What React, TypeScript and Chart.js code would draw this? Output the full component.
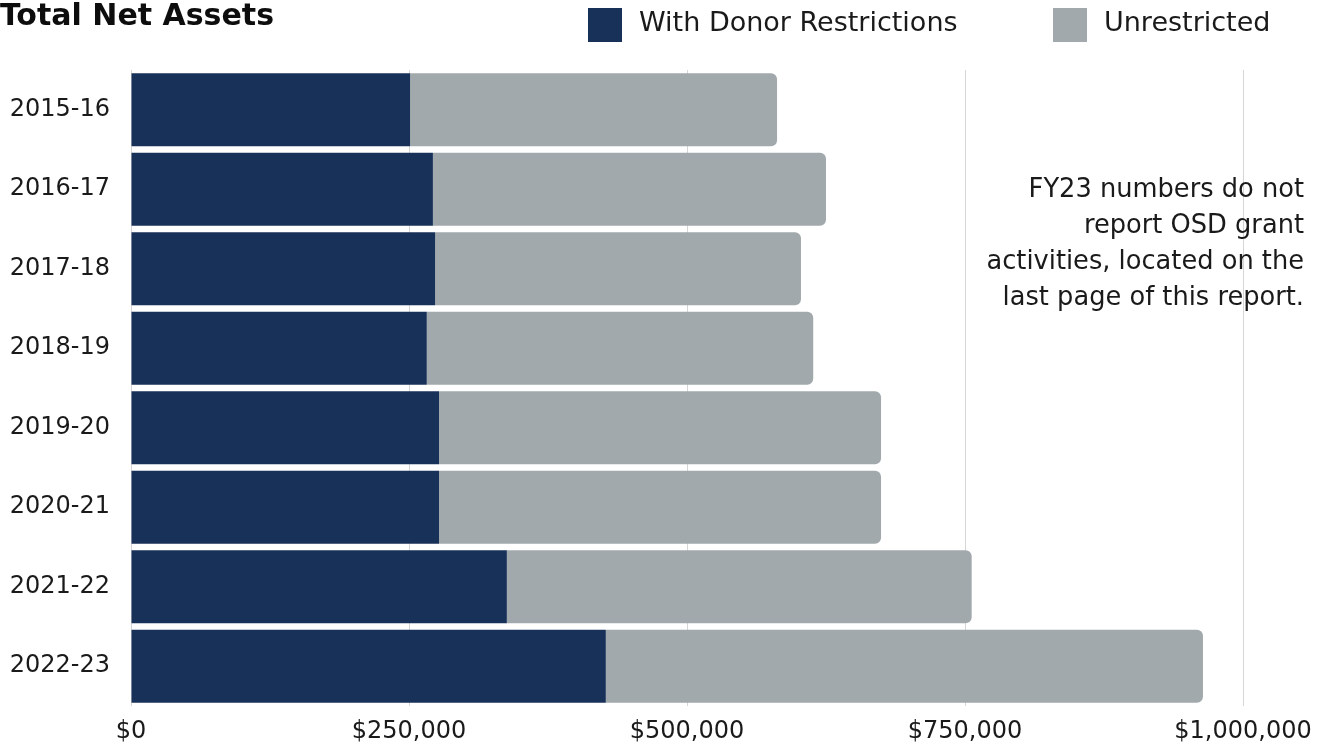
import React, { useEffect, useRef } from "react";
import { Chart, registerables } from "chart.js";

Chart.register(...registerables);

const categories = ["2015-16", "2016-17", "2017-18", "2018-19", "2019-20", "2020-21", "2021-22", "2022-23"];
const withDonorRestrictions = [251000, 271500, 273500, 266000, 277000, 277000, 338000, 427000];
const unrestricted = [330000, 353500, 329000, 347500, 397500, 397500, 418000, 537000];
const xTicks = [0, 250000, 500000, 750000, 1000000];
const titleText = "Total Net Assets";
const noteLines = ["FY23 numbers do not", "report OSD grant", "activities, located on the", "last page of this report."];

const FONT = '"DejaVu Sans", sans-serif';
const DARK = "#183159";
const GRAY = "#a2a9ac";
const TEXT = "#1a1a1a";

const overlayPlugin = {
  id: "overlay",
  afterDraw(chart: any) {
    const ctx = chart.ctx;
    ctx.save();
    // title
    ctx.fillStyle = "#0d0d0d";
    ctx.font = `bold 30px ${FONT}`;
    ctx.textAlign = "right";
    ctx.textBaseline = "middle";
    ctx.fillText(titleText, 274, 17);
    // legend
    const items = [
      { x: 588, ds: chart.data.datasets[0] },
      { x: 1053, ds: chart.data.datasets[1] },
    ];
    ctx.textAlign = "left";
    ctx.font = `27px ${FONT}`;
    for (const it of items) {
      ctx.fillStyle = it.ds.backgroundColor;
      ctx.fillRect(it.x, 8, 34, 34);
      ctx.fillStyle = TEXT;
      ctx.fillText(it.ds.label, it.x + 51, 24);
    }
    // note
    ctx.textAlign = "right";
    ctx.font = `25.7px ${FONT}`;
    ctx.fillStyle = TEXT;
    noteLines.forEach((l, i) => ctx.fillText(l, 1304, 190 + i * 36));
    ctx.restore();
  },
};

export default function App() {
  const ref = useRef<HTMLCanvasElement>(null);
  useEffect(() => {
    if (!ref.current) return;
    const chart = new Chart(ref.current, {
      type: "bar",
      data: {
        labels: categories,
        datasets: [
          {
            label: "With Donor Restrictions",
            data: withDonorRestrictions,
            backgroundColor: DARK,
            borderWidth: 0,
            borderRadius: 0,
          },
          {
            label: "Unrestricted",
            data: unrestricted,
            backgroundColor: GRAY,
            borderWidth: 0,
            borderRadius: 6,
            borderSkipped: "start",
          },
        ],
      },
      options: {
        indexAxis: "y",
        responsive: false,
        animation: false,
        devicePixelRatio: 1,
        layout: { padding: { top: 70, right: 85, bottom: 0, left: 0 } },
        plugins: { legend: { display: false }, title: { display: false }, tooltip: { enabled: false } },
        datasets: { bar: { categoryPercentage: 0.92, barPercentage: 1 } },
        scales: {
          x: {
            stacked: true,
            min: 0,
            max: 1000000,
            afterFit: (s: any) => { s.height = 40; },
            afterBuildTicks: (s: any) => { s.ticks = xTicks.map((v) => ({ value: v })); },
            grid: { color: "#d6d6d6", lineWidth: 1, drawTicks: false },
            border: { display: false },
            ticks: {
              padding: 11,
              color: TEXT,
              font: { family: FONT, size: 24 },
              callback: (v: any) => "$" + Number(v).toLocaleString("en-US"),
            },
          },
          y: {
            stacked: true,
            afterFit: (s: any) => { s.width = 131; },
            grid: { display: false, drawTicks: false },
            border: { display: false },
            ticks: { padding: 21, color: TEXT, font: { family: FONT, size: 24 } },
          },
        },
      },
      plugins: [overlayPlugin],
    } as any);
    return () => chart.destroy();
  }, []);
  return (
    <div style={{ position: "fixed", left: 0, top: 0, width: 1328, height: 746, background: "#fff" }}>
      <canvas ref={ref} width={1328} height={746} style={{ display: "block" }} />
    </div>
  );
}
